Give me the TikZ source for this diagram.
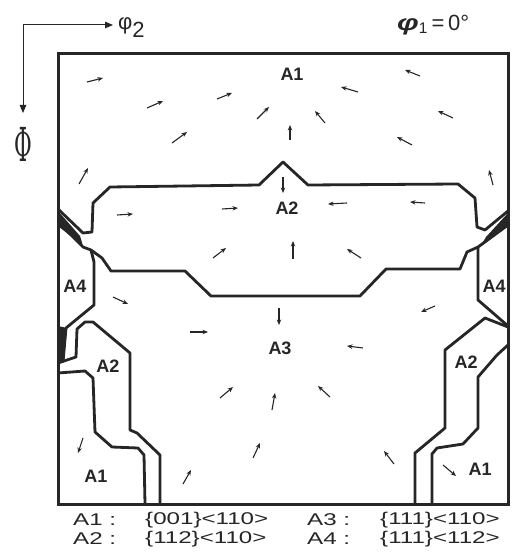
\documentclass[tikz,border=0pt]{standalone}
\usepackage{fontspec}
\setmainfont{Liberation Sans}
\newfontfamily\serifgr{DejaVu Serif}
\usetikzlibrary{arrows.meta}
\definecolor{ink}{HTML}{262626}
\definecolor{paper}{HTML}{FFFFFF}
\tikzset{
  frame/.style  = {draw=ink, line width=3pt},
  bound/.style  = {draw=ink, line width=2.8pt, line join=round},
  blot/.style   = {fill=ink},
  vec/.style    = {-{Stealth[length=5.5pt,width=4.4pt]}, draw=ink, line width=1.1pt},
  axis/.style   = {-{Triangle[length=8pt,width=6.5pt]}, draw=ink, line width=1pt},
  reg/.style    = {font=\fontsize{18}{18}\selectfont\bfseries\color{ink}, inner sep=0pt},
  leg/.style    = {font=\fontsize{17}{17}\selectfont\color{ink}, anchor=west, inner sep=0pt},
}
\newcommand{\wide}[1]{\scalebox{1.42}[1]{#1}}

\begin{document}
\begin{tikzpicture}[x=1pt,y=-1pt]
\path[use as bounding box, fill=paper] (0,0) rectangle (511,553);

% ---- axes ---------------------------------------------------------------
\coordinate (orig) at (23,25);
\coordinate (endx) at (113,25);
\coordinate (endy) at (23,113);
\draw[axis] (orig) -- (endx);
\draw[axis] (orig) -- (endy);
\node[font=\fontsize{22}{22}\selectfont\color{ink}, anchor=west, inner sep=0pt] (phitwo) at (118,28) {φ\raisebox{-8pt}{2}};
\node[inner sep=0pt, text=ink] (Phi) at (23,144) {\scalebox{0.9}[1.95]{\fontsize{24}{24}\selectfont\serifgr Φ}};
\node[font=\fontsize{22}{22}\selectfont\color{ink}, anchor=west, inner sep=0pt] (phione) at (397,25)
  {\scalebox{1.4}[1]{\textbf{\textit{φ}}}\textsubscript{1}\,=\,0°};

% ---- section frame --------------------------------------------------------
\draw[frame] (58,54) rectangle (508,504);

% ---- region boundaries --------------------------------------------------
\draw[bound] (58,209) -- (83,233) -- (92,232) -- (93,203) -- (110,187) -- (259,185)
  -- (283,162) -- (308,185) -- (458,184) -- (475,198) -- (477,227) -- (485,230) -- (508,211);
\draw[bound] (58,222) -- (83,247) -- (91,250) -- (102,258) -- (111,271) -- (185,271)
  -- (211,296) -- (360,296) -- (386,269) -- (460,269) -- (467,252) -- (478,247) -- (508,225);

% A4, left and right
\draw[bound] (91,250) -- (94,262) -- (94,305) -- (66,328) -- (63,362);
\draw[bound] (478,247) -- (478,270) -- (478,300) -- (508,326);

% A2 / A1 columns, left
\draw[bound] (58,363) -- (76,357) -- (77,329) -- (85,322) -- (93,322) -- (130,353)
  -- (130,430) -- (137,433) -- (160,455) -- (160,504);
\draw[bound] (58,373) -- (85,371) -- (93,378) -- (95,432) -- (112,447) -- (138,448)
  -- (144,455) -- (145,504);

% A2 / A1 columns, right
\draw[bound] (508,327) -- (485,318) -- (445,350) -- (445,428) -- (415,453) -- (415,504);
\draw[bound] (508,345) -- (497,355) -- (478,377) -- (478,428) -- (463,444) -- (437,448)
  -- (432,454) -- (432,504);

% dark wedges where boundaries run together
\fill[blot] (58,211) -- (58,226) -- (83,246) -- (80,236) -- cycle;
\fill[blot] (508,213) -- (508,226) -- (480,247) -- (486,237) -- cycle;
\fill[blot] (58,326) -- (67,328) -- (64,362) -- (58,364) -- cycle;

% ---- region labels --------------------------------------------------------
\node[reg] (aone)    at (292,74)  {A1};
\node[reg] (atwo)    at (287,208) {A2};
\node[reg] (athree)  at (280,348) {A3};
\node[reg] (afourl)  at (75,286)  {A4};
\node[reg] (afourr)  at (494,286) {A4};
\node[reg] (atwol)   at (108,366) {A2};
\node[reg] (atwor)   at (466,362) {A2};
\node[reg] (aonel)   at (96,476)  {A1};
\node[reg] (aoner)   at (480,469) {A1};

% ---- rotation vectors ---------------------------------------------------
\foreach \xa/\ya/\xb/\yb in {
  87/82/103/78, 147/108/163/101, 217/99/232/93, 257/119/269/107, 172/143/187/132,
  79/184/88/168, 290/140/290/125, 325/123/315/111, 358/92/341/87, 420/76/405/70,
  453/118/438/111, 412/145/397/137, 493/185/489/170,
  283/177/283/193, 117/215/133/214, 222/209/238/208, 347/203/328/204, 425/203/410/202,
  213/258/226/248, 293/259/293/241, 361/258/347/249,
  113/297/128/304, 190/332/208/332, 279/308/279/325, 435/306/421/312, 363/348/347/346,
  220/398/233/387, 272/410/275/393, 330/397/318/386, 253/458/260/443, 183/484/191/470,
  394/464/384/451, 83/438/78/453, 443/465/456/476}
  \draw[vec] (\xa,\ya) -- (\xb,\yb);

% ---- legend -------------------------------------------------------------
\node[leg] (lgone)    at (73,520)  {\wide{A1 :}};
\node[leg] (lgonet)   at (145,520) {\wide{\{001\}<110>}};
\node[leg] (lgthree)  at (307,520) {\wide{A3 :}};
\node[leg] (lgthreet) at (380,520) {\wide{\{111\}<110>}};
\node[leg] (lgtwo)    at (73,539)  {\wide{A2 :}};
\node[leg] (lgtwot)   at (145,539) {\wide{\{112\}<110>}};
\node[leg] (lgfour)   at (307,539) {\wide{A4 :}};
\node[leg] (lgfourt)  at (380,539) {\wide{\{111\}<112>}};

\end{tikzpicture}
\end{document}
